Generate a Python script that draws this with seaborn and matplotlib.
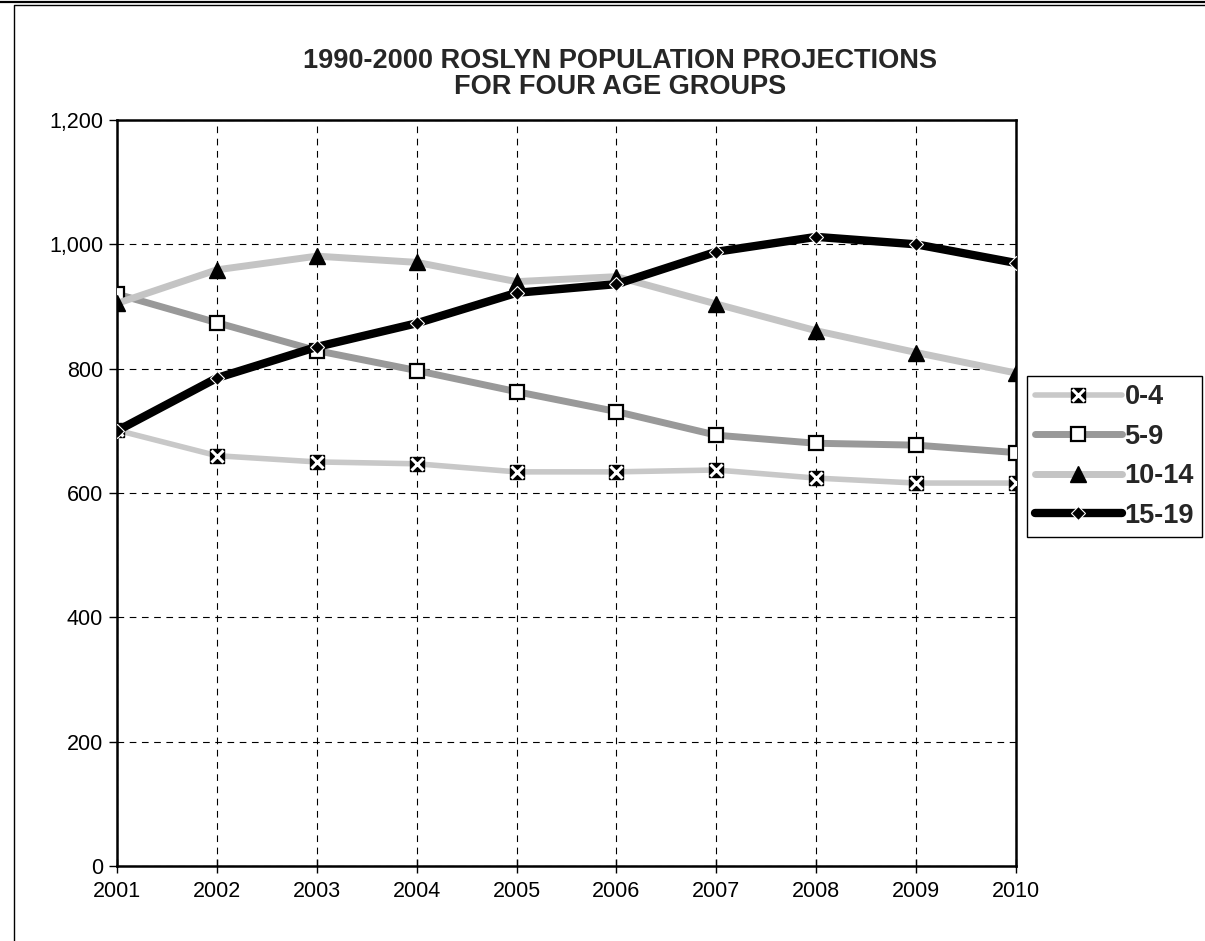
import matplotlib
matplotlib.use("Agg")
import matplotlib.pyplot as plt
import seaborn as sns
import pandas as pd
from matplotlib.lines import Line2D
from matplotlib.legend_handler import HandlerTuple
from matplotlib.ticker import FuncFormatter

years = [2001, 2002, 2003, 2004, 2005, 2006, 2007, 2008, 2009, 2010]
age_0_4 = [701, 660, 650, 647, 634, 634, 637, 624, 616, 616]
age_5_9 = [920, 874, 829, 797, 763, 731, 693, 680, 677, 665]
age_10_14 = [905, 959, 981, 971, 940, 948, 904, 861, 826, 793]
age_15_19 = [700, 785, 835, 873, 922, 936, 988, 1012, 1000, 970]
labels = ["0-4", "5-9", "10-14", "15-19"]
title = "1990-2000 ROSLYN POPULATION PROJECTIONS\nFOR FOUR AGE GROUPS"
y_ticks = [0, 200, 400, 600, 800, 1000, 1200]

sns.set_style("white")
plt.rcParams["font.family"] = ["Liberation Sans", "DejaVu Sans"]

W, H = 1205, 941
fig = plt.figure(figsize=(W / 100, H / 100), dpi=100)
ax = fig.add_axes([117 / W, (H - 866) / H, (1016 - 117) / W, (866 - 120) / H])

df = pd.DataFrame({"year": years, "0-4": age_0_4, "5-9": age_5_9,
                   "10-14": age_10_14, "15-19": age_15_19})

styles = {
    "0-4": dict(color="#c8c8c8", lw=4, marker="s", ms=10, mfc="black", mec="black", mew=1, z=3),
    "5-9": dict(color="#999999", lw=5, marker="s", ms=10, mfc="white", mec="black", mew=1.6, z=4),
    "10-14": dict(color="#c4c4c4", lw=5, marker="^", ms=11, mfc="black", mec="black", mew=1, z=5),
    "15-19": dict(color="black", lw=6, marker="D", ms=7, mfc="black", mec="white", mew=0.8, z=6),
}

handles = []
for lab in labels:
    s = styles[lab]
    sns.lineplot(data=df, x="year", y=lab, ax=ax, color=s["color"], linewidth=s["lw"],
                 marker=s["marker"], markersize=s["ms"], markerfacecolor=s["mfc"],
                 markeredgecolor=s["mec"], markeredgewidth=s["mew"], zorder=s["z"],
                 solid_capstyle="round")
    h = Line2D([], [], color=s["color"], lw=s["lw"], marker=s["marker"], ms=s["ms"],
               mfc=s["mfc"], mec=s["mec"], mew=s["mew"], solid_capstyle="round")
    if lab == "0-4":
        sns.lineplot(data=df, x="year", y=lab, ax=ax, linestyle="none", marker="x",
                     markersize=8, markeredgecolor="white", markeredgewidth=2.2, zorder=3.5)
        hx = Line2D([], [], linestyle="none", marker="x", ms=8, mec="white", mew=2.2)
        handles.append((h, hx))
    else:
        handles.append(h)

ax.set_xlim(years[0], years[-1])
ax.set_ylim(0, 1200)
ax.set_xticks(years)
ax.set_yticks(y_ticks)
ax.yaxis.set_major_formatter(FuncFormatter(lambda v, p: f"{int(v):,}"))
ax.set_xlabel("")
ax.set_ylabel("")
ax.grid(True, color="black", linestyle=(0, (6, 5)), linewidth=0.8)
for sp in ax.spines.values():
    sp.set_color("black")
    sp.set_linewidth(1.8)
    sp.set_visible(True)
ax.tick_params(axis="y", direction="out", length=6, width=1, labelsize=15.5, pad=4, colors="black", left=True)
ax.tick_params(axis="x", direction="inout", length=10, width=1, labelsize=15.5, pad=6, colors="black", bottom=True)

fig.text(620 / W, 1 - 74 / H, title, ha="center", va="center", fontsize=19.5,
         fontweight="bold", linespacing=1.05)

leg = fig.legend(handles, labels, loc="upper left",
                 bbox_to_anchor=(1027 / W, 1 - 376 / H), bbox_transform=fig.transFigure,
                 handler_map={tuple: HandlerTuple(ndivide=1, pad=0)},
                 prop={"weight": "bold", "size": 19.5}, frameon=True, fancybox=False,
                 edgecolor="black", framealpha=1, handlelength=3.2, handletextpad=0.1,
                 labelspacing=0.5, borderpad=0.3, borderaxespad=0)
leg.get_frame().set_linewidth(1)

fig.add_artist(Line2D([0, 1], [1 - 1.5 / H, 1 - 1.5 / H], transform=fig.transFigure,
                      color="black", lw=1.6))
fig.add_artist(Line2D([14 / W, 14 / W, 1.01], [-0.01, 1 - 5 / H, 1 - 5 / H],
                      transform=fig.transFigure, color="black", lw=1))

fig.savefig("out.png", dpi=100)
